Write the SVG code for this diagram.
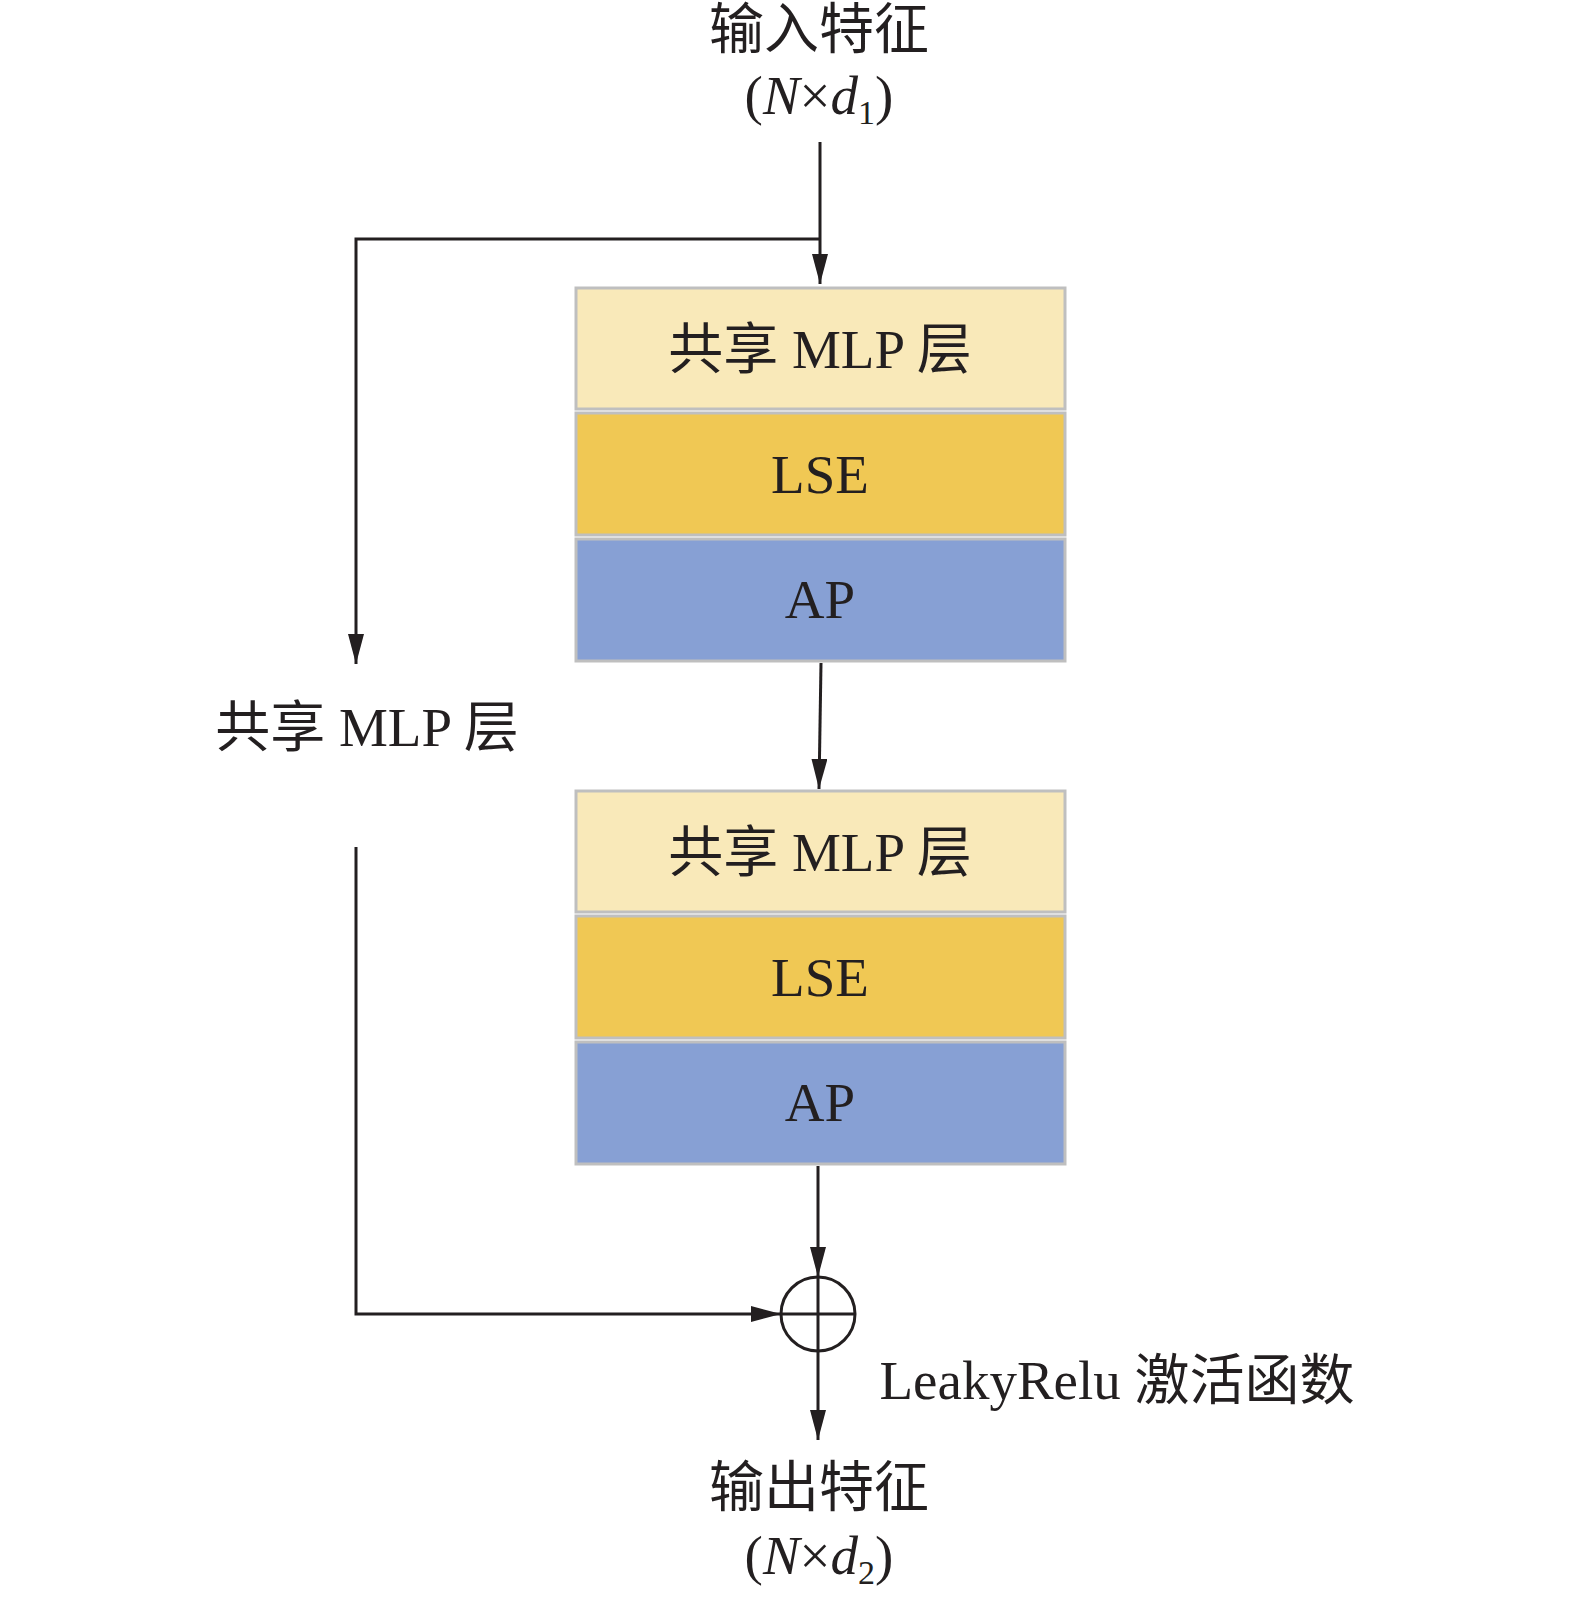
<svg xmlns="http://www.w3.org/2000/svg" width="1575" height="1605" viewBox="0 0 1575 1605">
<style>
.t{font-family:"Liberation Serif","Noto Sans CJK SC",serif;font-size:55px;fill:#231f20;text-anchor:middle}
.band{stroke:#bfbfbf;stroke-width:3}
.b1{fill:#f9e9b9}.b2{fill:#f0c854}.b3{fill:#87a0d4}
.c{fill:none;stroke:#231f20;stroke-width:3}
</style>
<defs>
<marker id="ah" markerUnits="userSpaceOnUse" markerWidth="30" markerHeight="16" refX="30" refY="8" orient="auto" viewBox="0 0 30 16">
<path d="M0,0 L30,8 L0,16 z" fill="#231f20"/>
</marker>
</defs>
<rect width="1575" height="1605" fill="#fff"/>

<g id="input-label">
<text class="t" x="819" y="48">输入特征</text>
<text class="t" x="819" y="114">(<tspan font-style="italic">N</tspan>×<tspan font-style="italic">d</tspan><tspan font-size="34" dy="10">1</tspan><tspan dy="-10">)</tspan></text>
</g>

<g id="block1">
<rect class="band b1" x="576" y="288" width="489" height="121"/>
<rect class="band b2" x="576" y="413" width="489" height="122"/>
<rect class="band b3" x="576" y="539" width="489" height="122"/>
<text class="t" x="820" y="368">共享 MLP 层</text>
<text class="t" x="820" y="493">LSE</text>
<text class="t" x="820" y="618">AP</text>
</g>

<g id="block2">
<rect class="band b1" x="576" y="791" width="489" height="121"/>
<rect class="band b2" x="576" y="916" width="489" height="122"/>
<rect class="band b3" x="576" y="1042" width="489" height="122"/>
<text class="t" x="820" y="871">共享 MLP 层</text>
<text class="t" x="820" y="996">LSE</text>
<text class="t" x="820" y="1121">AP</text>
</g>

<g id="shortcut-label">
<text class="t" x="367" y="746">共享 MLP 层</text>
</g>

<g id="sum">
<circle cx="818" cy="1314" r="37" fill="none" stroke="#231f20" stroke-width="3"/>
<line x1="781" y1="1314" x2="855" y2="1314" stroke="#231f20" stroke-width="3"/>
<line x1="818" y1="1277" x2="818" y2="1351" stroke="#231f20" stroke-width="3"/>
</g>

<g id="activation-label">
<text class="t" x="1117" y="1399" font-size="56">LeakyRelu 激活函数</text>
</g>

<g id="output-label">
<text class="t" x="819" y="1506">输出特征</text>
<text class="t" x="819" y="1574">(<tspan font-style="italic">N</tspan>×<tspan font-style="italic">d</tspan><tspan font-size="34" dy="10">2</tspan><tspan dy="-10">)</tspan></text>
</g>

<g id="connectors">
<line class="c" x1="820" y1="142" x2="820" y2="284" marker-end="url(#ah)"/>
<polyline class="c" points="820,239 356,239 356,664" marker-end="url(#ah)"/>
<line class="c" x1="821" y1="663" x2="819" y2="789" marker-end="url(#ah)"/>
<line class="c" x1="818" y1="1166" x2="818" y2="1277" marker-end="url(#ah)"/>
<polyline class="c" points="356,847 356,1314 781,1314" marker-end="url(#ah)"/>
<line class="c" x1="818" y1="1351" x2="818" y2="1440" marker-end="url(#ah)"/>
</g>
</svg>
